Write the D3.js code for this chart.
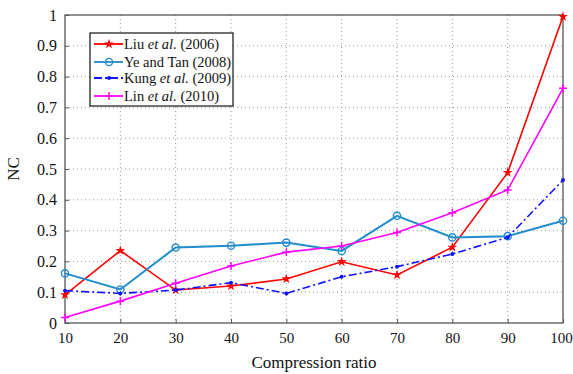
<!DOCTYPE html>
<meta charset="utf-8">
<style>
  body { margin: 0; background: #fff; }
  svg text { font-family: "Liberation Serif", "Times New Roman", "DejaVu Serif", serif; }
</style>
<svg width="573" height="374"></svg>
<script src="https://d3js.org/d3.v7.min.js"></script>
<script>
    // data
    var ratios = [10, 20, 30, 40, 50, 60, 70, 80, 90, 100];
    var liu  = [0.091, 0.235, 0.107, 0.120, 0.143, 0.199, 0.156, 0.246, 0.488, 0.995];
    var ye   = [0.161, 0.109, 0.245, 0.251, 0.261, 0.234, 0.348, 0.278, 0.282, 0.332];
    var kung = [0.105, 0.096, 0.107, 0.131, 0.096, 0.150, 0.183, 0.224, 0.278, 0.464];
    var lin  = [0.018, 0.071, 0.129, 0.185, 0.230, 0.250, 0.294, 0.358, 0.432, 0.762];
    var yTicks = [0, 0.1, 0.2, 0.3, 0.4, 0.5, 0.6, 0.7, 0.8, 0.9, 1];

    var series = [
        {name: "Liu", it: "et al.", year: " (2006)", values: liu, color: "#ff0000", dash: null, marker: "star"},
        {name: "Ye and Tan (2008)", it: "", year: "", values: ye, color: "#1f8ccc", dash: null, marker: "circle"},
        {name: "Kung", it: "et al.", year: " (2009)", values: kung, color: "#1010ff", dash: "8,3,2,3", marker: "dot"},
        {name: "Lin", it: "et al.", year: " (2010)", values: lin, color: "#ff00ff", dash: null, marker: "plus"}
    ];

    var svg = d3.select("svg");
    var mLeft = 65, mRight = 563, mTop = 15, mBottom = 323;
    var serif = "Liberation Serif, Times New Roman, serif";

    var x = d3.scaleLinear().domain([10, 100]).range([mLeft, mRight]);
    var y = d3.scaleLinear().domain([0, 1]).range([mBottom, mTop]);

    // grid
    var grid = svg.append("g").attr("stroke", "#999").attr("stroke-dasharray", "1,3").attr("stroke-width", 1);
    grid.selectAll(".gx").data(ratios.slice(1, -1)).enter().append("line")
        .attr("x1", d => x(d)).attr("x2", d => x(d)).attr("y1", mTop).attr("y2", mBottom);
    grid.selectAll(".gy").data(yTicks.slice(1, -1)).enter().append("line")
        .attr("x1", mLeft).attr("x2", mRight).attr("y1", d => y(d)).attr("y2", d => y(d));

    // axes with inward ticks
    svg.append("g").attr("transform", "translate(0," + mBottom + ")")
        .attr("font-family", serif)
        .call(d3.axisBottom(x).tickValues(ratios).tickSizeInner(-4).tickSizeOuter(0).tickPadding(9))
        .call(g => g.select(".domain").remove())
        .call(g => g.selectAll("text").attr("font-size", 15).attr("fill", "#111")
            .attr("dx", d => d === 100 ? -2 : 0));
    svg.append("g").attr("transform", "translate(" + mLeft + ",0)")
        .attr("font-family", serif)
        .call(d3.axisLeft(y).tickValues(yTicks).tickFormat(d3.format("")).tickSizeInner(-4).tickSizeOuter(0).tickPadding(8))
        .call(g => g.select(".domain").remove())
        .call(g => g.selectAll("text").attr("font-size", 16).attr("fill", "#111"));
    svg.selectAll(".tick line").attr("stroke", "#555");

    svg.append("rect").attr("x", mLeft).attr("y", mTop).attr("width", mRight - mLeft).attr("height", mBottom - mTop)
        .attr("fill", "none").attr("stroke", "#555").attr("stroke-width", 1.3);

    var line = d3.line().x((d, i) => x(ratios[i])).y(d => y(d));

    function marker(g, type, color, cx, cy) {
        if (type === "circle") {
            g.append("circle").attr("cx", cx).attr("cy", cy).attr("r", 3.6)
                .attr("fill", "none").attr("stroke", color).attr("stroke-width", 1.4);
        } else if (type === "star") {
            g.append("path").attr("d", d3.symbol(d3.symbolStar, 30)()).attr("transform", "translate(" + cx + "," + cy + ")")
                .attr("fill", color);
        } else if (type === "dot") {
            g.append("circle").attr("cx", cx).attr("cy", cy).attr("r", 2).attr("fill", color);
        } else {
            g.append("path").attr("d", "M-4,0H4M0,-4V4").attr("transform", "translate(" + cx + "," + cy + ")")
                .attr("stroke", color).attr("stroke-width", 1.5);
        }
    }

    series.forEach(function(s) {
        var g = svg.append("g");
        g.append("path").attr("d", line(s.values)).attr("fill", "none")
            .attr("stroke", s.color).attr("stroke-width", s.marker === "circle" ? 2 : 1.6)
            .attr("stroke-dasharray", s.dash);
        s.values.forEach((v, i) => marker(g, s.marker, s.color, x(ratios[i]), y(v)));
    });

    // legend
    var leg = svg.append("g").attr("font-family", serif);
    leg.append("rect").attr("x", 90).attr("y", 33).attr("width", 143).attr("height", 73)
        .attr("fill", "#fff").attr("stroke", "#111").attr("stroke-width", 1.2);
    var rowsY = [44, 62, 78, 96];
    series.forEach(function(s, i) {
        var ry = rowsY[i];
        leg.append("line").attr("x1", 94).attr("x2", 123).attr("y1", ry).attr("y2", ry)
            .attr("stroke", s.color).attr("stroke-width", 1.8).attr("stroke-dasharray", s.dash);
        marker(leg, s.marker, s.color, 109, ry);
        var t = leg.append("text").attr("x", 124).attr("y", ry + 5).attr("font-size", 14.5).attr("fill", "#111");
        if (s.it) {
            t.append("tspan").text(s.name + " ");
            t.append("tspan").attr("font-style", "italic").text(s.it);
            t.append("tspan").text(s.year);
        } else {
            t.text(s.name);
        }
    });

    svg.append("text").attr("x", (mLeft + mRight) / 2).attr("y", 368).attr("text-anchor", "middle")
        .attr("font-family", serif).attr("font-size", 17).attr("fill", "#111").text("Compression ratio");
    svg.append("text").attr("transform", "translate(19," + ((mTop + mBottom) / 2) + ") rotate(-90)")
        .attr("text-anchor", "middle").attr("font-family", serif).attr("font-size", 17).attr("fill", "#111").text("NC");
</script>
